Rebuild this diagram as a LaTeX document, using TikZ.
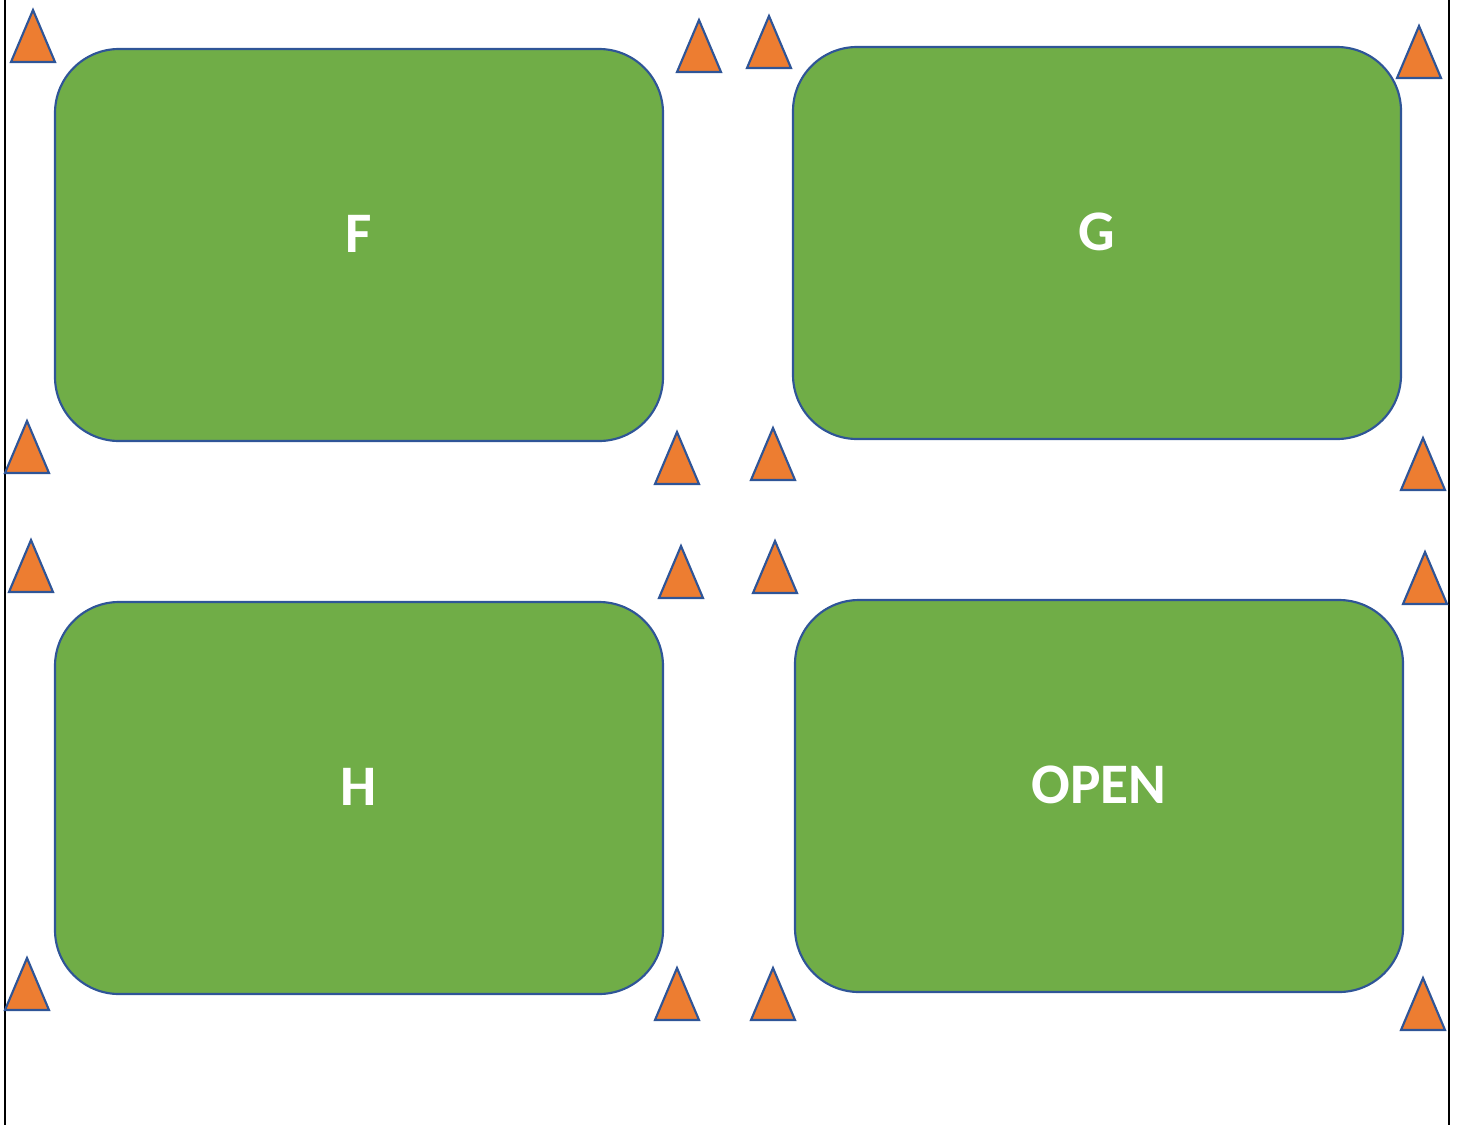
\documentclass[tikz,border=0pt]{standalone}
\usepackage{fontspec}
\setmainfont{Carlito}
\definecolor{boxgreen}{HTML}{70AD47}
\definecolor{coneorange}{HTML}{ED7D31}
\definecolor{edgeblue}{HTML}{2F5597}
\tikzset{
  field/.style={draw=edgeblue, fill=boxgreen, line width=1.6pt, rounded corners=48pt,
    minimum width=456pt, minimum height=294pt, inner sep=0pt,
    text=white, font=\fontsize{43}{43}\selectfont\bfseries,
    text height=27.7pt, text depth=16pt},
  cone/.style={draw=edgeblue, fill=coneorange, line width=1.6pt, line join=miter},
  sideline/.style={draw=black, line width=1.8pt}
}
\begin{document}
\begin{tikzpicture}[x=0.75pt,y=-0.75pt]
\useasboundingbox (0,0) rectangle (1460,1125);
\coordinate (lt) at (5,0); \coordinate (lb) at (5,1125);
\coordinate (rt) at (1449,0); \coordinate (rb) at (1449,1125);
\draw[sideline] (lt) -- (lb);
\draw[sideline] (rt) -- (rb);
\node[field] (F) at (359,245) {F};
\node[field] (G) at (1097,243) {G};
\node[field] (H) at (359,798) {H};
\node[field] (O) at (1099,796) {OPEN};
\foreach \cx/\by in {33/62, 699/72, 769/68, 1419/78,
                     27/473, 677/484, 773/480, 1423/490,
                     31/592, 681/598, 775/593, 1425/604,
                     27/1010, 677/1020, 773/1020, 1423/1030}{
  \draw[cone] (\cx-22,\by) -- (\cx,\by-52) -- (\cx+22,\by) -- cycle;
}
\end{tikzpicture}
\end{document}
